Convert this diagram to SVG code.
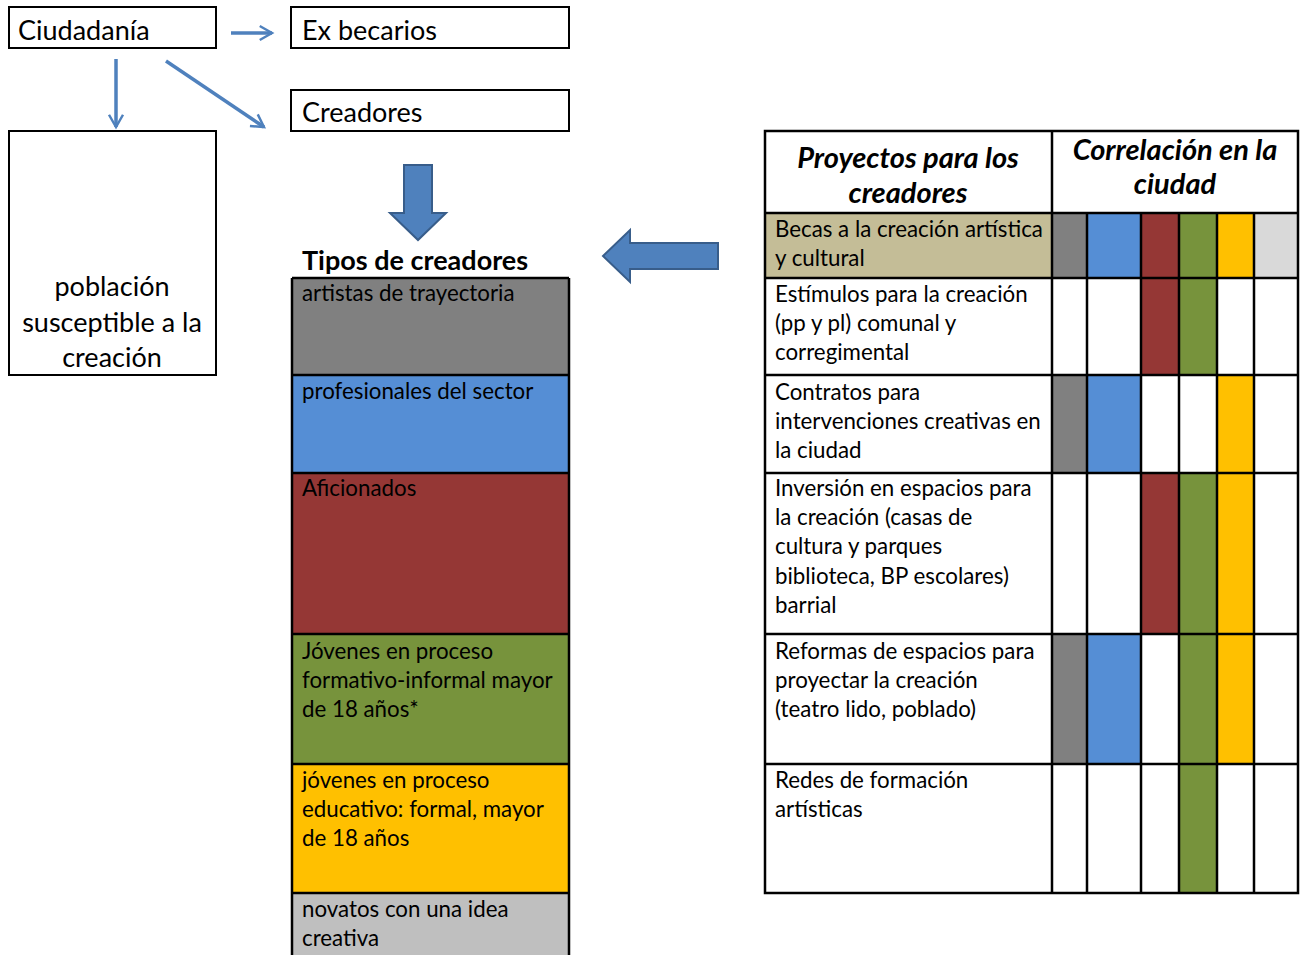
<svg xmlns="http://www.w3.org/2000/svg" width="1305" height="955" viewBox="0 0 1305 955">
<defs>
<style>
text{font-family:Lato,"Liberation Sans",sans-serif;fill:#000}
.big{font-size:27px}
.t{font-size:22.3px}
.hd{font-size:29px;font-weight:bold;font-style:italic}
.box{fill:#fff;stroke:#000;stroke-width:2}
.grid{stroke:#000;stroke-width:2.5;fill:none}
.thin{stroke:#4F81BD;stroke-width:3.5;fill:none}
.fat{fill:#4F81BD;stroke:#385D8A;stroke-width:2}
</style>
<marker id="ah" viewBox="0 0 10 10" refX="8" refY="5" markerWidth="5" markerHeight="5" orient="auto" markerUnits="strokeWidth">
<path d="M1,1 L8,5 L1,9" fill="none" stroke="#4F81BD" stroke-width="1.4"/>
</marker>
</defs>
<rect width="1305" height="955" fill="#fff"/>

<g id="ciudadania">
<rect class="box" x="9" y="7" width="207" height="41"/>
<text class="big" x="18" y="40">Ciudadanía</text>
</g>
<g id="exbecarios">
<rect class="box" x="291" y="7" width="278" height="41"/>
<text class="big" x="302" y="40">Ex becarios</text>
</g>
<g id="creadores">
<rect class="box" x="291" y="90" width="278" height="41"/>
<text class="big" x="302" y="122">Creadores</text>
</g>
<g id="poblacion">
<rect class="box" x="9" y="131" width="207" height="244"/>
<text class="big" x="112" y="296" text-anchor="middle">población</text>
<text class="big" x="112" y="332" text-anchor="middle">susceptible a la</text>
<text class="big" x="112" y="367" text-anchor="middle">creación</text>
</g>

<g id="tipos">
<text x="302" y="270" style="font-size:27px;font-weight:bold">Tipos de creadores</text>
<rect x="292" y="278" width="277" height="97" fill="#808080"/>
<rect x="292" y="375" width="277" height="98" fill="#558ED5"/>
<rect x="292" y="473" width="277" height="161" fill="#953735"/>
<rect x="292" y="634" width="277" height="130" fill="#77933C"/>
<rect x="292" y="764" width="277" height="129" fill="#FFC000"/>
<rect x="292" y="893" width="277" height="70" fill="#BFBFBF"/>
<path class="grid" d="M292,278 H569 M292,375 H569 M292,473 H569 M292,634 H569 M292,764 H569 M292,893 H569 M292,278 V960 M569,278 V960"/>
<text class="t" x="302" y="301">artistas de trayectoria</text>
<text class="t" x="302" y="399">profesionales del sector</text>
<text class="t" x="302" y="496">Aficionados</text>
<text class="t" x="302" y="659">Jóvenes en proceso</text>
<text class="t" x="302" y="688">formativo-informal mayor</text>
<text class="t" x="302" y="717">de 18 años*</text>
<text class="t" x="302" y="788">jóvenes en proceso</text>
<text class="t" x="302" y="817">educativo: formal, mayor</text>
<text class="t" x="302" y="846">de 18 años</text>
<text class="t" x="302" y="917">novatos con una idea</text>
<text class="t" x="302" y="946">creativa</text>
</g>

<g id="tabla">
<rect x="765" y="131" width="533" height="762" fill="#fff"/>
<rect x="765" y="213" width="287" height="65" fill="#C4BD97"/>
<rect x="1052" y="213" width="35" height="65" fill="#808080"/>
<rect x="1087" y="213" width="54" height="65" fill="#558ED5"/>
<rect x="1141" y="213" width="38" height="65" fill="#953735"/>
<rect x="1179" y="213" width="38" height="65" fill="#77933C"/>
<rect x="1217" y="213" width="37" height="65" fill="#FFC000"/>
<rect x="1254" y="213" width="44" height="65" fill="#D9D9D9"/>
<rect x="1141" y="278" width="38" height="97" fill="#953735"/>
<rect x="1179" y="278" width="38" height="97" fill="#77933C"/>
<rect x="1052" y="375" width="35" height="98" fill="#808080"/>
<rect x="1087" y="375" width="54" height="98" fill="#558ED5"/>
<rect x="1217" y="375" width="37" height="98" fill="#FFC000"/>
<rect x="1141" y="473" width="38" height="161" fill="#953735"/>
<rect x="1179" y="473" width="38" height="161" fill="#77933C"/>
<rect x="1217" y="473" width="37" height="161" fill="#FFC000"/>
<rect x="1052" y="634" width="35" height="130" fill="#808080"/>
<rect x="1087" y="634" width="54" height="130" fill="#558ED5"/>
<rect x="1179" y="634" width="38" height="130" fill="#77933C"/>
<rect x="1217" y="634" width="37" height="130" fill="#FFC000"/>
<rect x="1179" y="764" width="38" height="129" fill="#77933C"/>
<path class="grid" d="M765,131 H1298 V893 H765 Z M765,213 H1298 M765,278 H1298 M765,375 H1298 M765,473 H1298 M765,634 H1298 M765,764 H1298 M1052,131 V893 M1087,213 V893 M1141,213 V893 M1179,213 V893 M1217,213 V893 M1254,213 V893"/>
<text class="hd" x="908" y="168" text-anchor="middle">Proyectos para los</text>
<text class="hd" x="908" y="203" text-anchor="middle">creadores</text>
<text class="hd" x="1175" y="160" text-anchor="middle">Correlación en la</text>
<text class="hd" x="1175" y="194" text-anchor="middle">ciudad</text>
<text class="t" x="775" y="237">Becas a la creación artística</text>
<text class="t" x="775" y="266">y cultural</text>
<text class="t" x="775" y="302">Estímulos para la creación</text>
<text class="t" x="775" y="331">(pp y pl) comunal y</text>
<text class="t" x="775" y="360">corregimental</text>
<text class="t" x="775" y="400">Contratos para</text>
<text class="t" x="775" y="429">intervenciones creativas en</text>
<text class="t" x="775" y="458">la ciudad</text>
<text class="t" x="775" y="496">Inversión en espacios para</text>
<text class="t" x="775" y="525">la creación (casas de</text>
<text class="t" x="775" y="554">cultura y parques</text>
<text class="t" x="775" y="584">biblioteca, BP escolares)</text>
<text class="t" x="775" y="613">barrial</text>
<text class="t" x="775" y="659">Reformas de espacios para</text>
<text class="t" x="775" y="688">proyectar la creación</text>
<text class="t" x="775" y="717">(teatro lido, poblado)</text>
<text class="t" x="775" y="788">Redes de formación</text>
<text class="t" x="775" y="817">artísticas</text>
</g>

<g id="conectores">
<line class="thin" x1="231" y1="33" x2="272" y2="33" marker-end="url(#ah)"/>
<line class="thin" x1="116" y1="59" x2="116" y2="127" marker-end="url(#ah)"/>
<line class="thin" x1="166" y1="61" x2="264" y2="127" marker-end="url(#ah)"/>
<path class="fat" d="M404,165 H432 V213 H446 L418,240 L390,213 H404 Z"/>
<path class="fat" d="M718,243 V269 H630 V282 L603,256 L630,230 V243 Z"/>
</g>
</svg>
